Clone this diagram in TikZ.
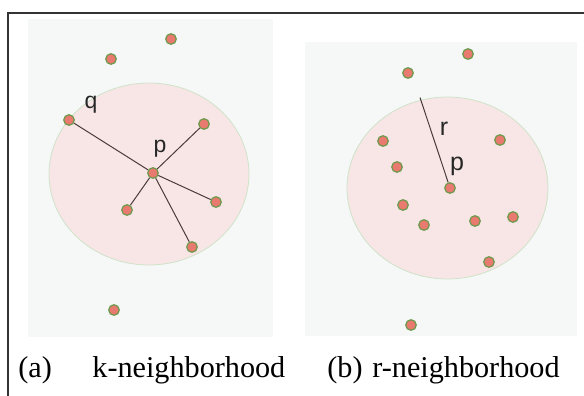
\documentclass[tikz,border=0pt]{standalone}
\usepackage{fontspec}
\setmainfont{Liberation Serif}
\newfontfamily\labelfont{Liberation Sans}
\usetikzlibrary{positioning}
\definecolor{panelbg}{HTML}{F6F8F8}
\definecolor{zonefill}{HTML}{F8E6E6}
\definecolor{zoneedge}{HTML}{CFE3C8}
\definecolor{dotfill}{HTML}{E87A70}
\definecolor{dotedge}{HTML}{6A9A4A}
\definecolor{spoke}{HTML}{4B3B3B}
\definecolor{frameink}{HTML}{333333}

\tikzset{
  pt/.style={circle, fill=dotfill, draw=dotedge, line width=0.6pt,
             minimum size=5.3pt, inner sep=0pt},
  tag/.style={font=\labelfont\fontsize{11.5}{13}\selectfont, text=black!85, inner sep=0pt},
  bigtag/.style={tag, font=\labelfont\fontsize{12.5}{14}\selectfont},
  caption/.style={font=\fontsize{15.1}{18}\selectfont, anchor=base west, inner sep=0pt}
}

\begin{document}
\begin{tikzpicture}[x=0.5pt, y=-0.5pt]
  \useasboundingbox (0,0) rectangle (584,396);
  \fill[white] (0,0) rectangle (584,396);

  % ── Frame (top and left rules only) ─────────────────────────────────────
  \draw[frameink, line width=1.3pt] (7,13) -- (584,13);
  \draw[frameink, line width=1.3pt] (8,13) -- (8,396);

  % ── (a) k-neighborhood ──────────────────────────────────────────────────
  \fill[panelbg] (28,19) rectangle (273,337);
  \fill[zonefill] (149,174) ellipse (100 and 91);
  \draw[zoneedge, line width=0.4pt] (149,174) ellipse (100 and 91);
  \node[pt] (kp) at (153,173) {};
  \node[pt] (kq) at (69,120) {};
  \foreach \x/\y/\n in {171/39/o1, 111/59/o2, 114/310/o3}{
    \node[pt] (k\n) at (\x,\y) {};
  }
  \foreach \x/\y/\n in {204/124/1, 216/202/2, 127/210/3, 192/247/4}{
    \node[pt] (kn\n) at (\x,\y) {};
  }
  \foreach \n in {kq, kn1, kn2, kn3, kn4}{
    \draw[spoke, line width=0.5pt] (kp) -- (\n);
  }
  \node[tag] (kqlab) at (91,105) {q};
  \node[tag] (kplab) at (160,149) {p};

  % ── (b) r-neighborhood ──────────────────────────────────────────────────
  \fill[panelbg] (305,42) rectangle (577,336);
  \fill[zonefill] (447.5,188) ellipse (100.5 and 91);
  \draw[zoneedge, line width=0.4pt] (447.5,188) ellipse (100.5 and 91);
  \coordinate (redge) at (420,97.5);
  \node[pt] (rp) at (450,188) {};
  \foreach \x/\y/\n in {468/54/1, 408/73/2, 383/141/3, 500/140/4, 397/167/5,
                        403/205/6, 424/225/7, 475/221/8, 513/217/9, 489/262/10,
                        411/325/11}{
    \node[pt] (r\n) at (\x,\y) {};
  }
  \draw[spoke, line width=0.5pt] (rp) -- (redge);
  \node[bigtag] (rrlab) at (444,128.5) {r};
  \node[bigtag] (rplab) at (457,166) {p};

  % ── Captions ────────────────────────────────────────────────────────────
  \node[caption] (capa)  at (18,377) {(a)};
  \node[caption] (capak) at (92,377) {k-neighborhood};
  \node[caption, anchor=base east] (capb) at (363,377) {(b)};
  \node[caption] (capbr) at (372,377) {r-neighborhood};
\end{tikzpicture}
\end{document}
